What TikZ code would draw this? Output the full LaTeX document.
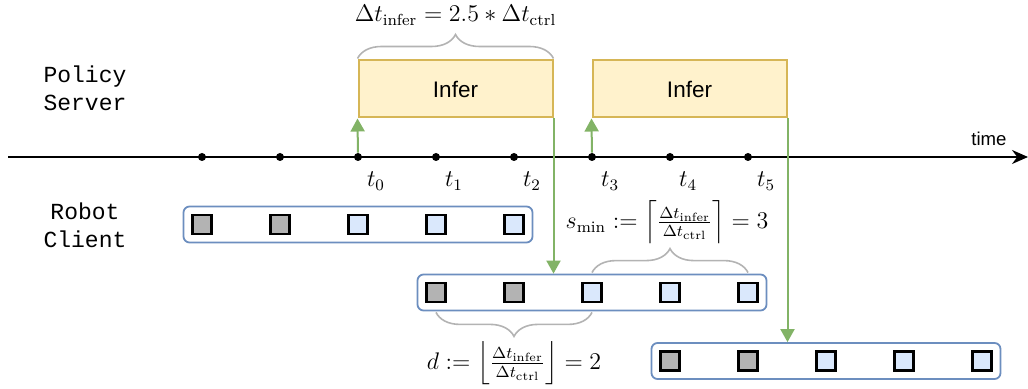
\documentclass[tikz,border=0pt]{standalone}
\usepackage{fontspec}
\usepackage{amsmath}
\usetikzlibrary{arrows.meta,decorations.pathreplacing,calc}
\newfontfamily\arialfont{Liberation Sans}
\newfontfamily\courierfont{Liberation Mono}
\definecolor{inferfill}{HTML}{FFF2CC}
\definecolor{inferline}{HTML}{D6B656}
\definecolor{sendgreen}{HTML}{82B366}
\definecolor{rowline}{HTML}{6C8EBF}
\definecolor{chunkblue}{HTML}{DAE8FC}
\definecolor{chunkgray}{HTML}{B3B3B3}
\definecolor{bracegray}{HTML}{B3B3B3}
\begin{document}
\begin{tikzpicture}[x=0.5pt,y=-0.5pt,
    infer/.style={draw=inferline,fill=inferfill,line width=1pt,minimum width=97pt,minimum height=28.5pt,inner sep=0pt,font=\arialfont\fontsize{11.25}{13}\selectfont},
    tick/.style={circle,fill=black,inner sep=0pt,minimum size=4pt},
    rowbox/.style={draw=rowline,rounded corners=3pt,line width=0.9pt,minimum width=174.5pt,minimum height=18pt,inner sep=0pt},
    chunk/.style={draw=black,line width=1.1pt,minimum size=9.5pt,inner sep=0pt},
    send/.style={draw=sendgreen,line width=1pt,-{Triangle[width=7pt,length=6.5pt]}},
    curly/.style={draw=bracegray,line width=0.8pt,decorate,decoration={brace,amplitude=12pt}},
    lane/.style={font=\courierfont\fontsize{11.5}{13.8}\selectfont,align=center}]

    \useasboundingbox (0,0) rectangle (1028,389);

    \node[lane] (server) at (85,88) {Policy\\Server};
    \node[lane] (client) at (85,225) {Robot\\Client};

    % time axis
    \coordinate (tstart) at (8,157);
    \coordinate (tend) at (1028,157);
    \draw[line width=1pt,-{Stealth[length=8pt,width=7pt]}] (tstart) -- (tend);
    \node[font=\arialfont\fontsize{9.3}{11}\selectfont] (timelbl) at (989,139) {time};
    \foreach \i in {-2,...,5}
        \node[tick] (tk\i) at ({358+78*\i},157) {};
    \foreach \i in {0,...,5}
        \node[font=\large] (tl\i) at ([xshift=9pt,yshift=-12pt]tk\i) {$t_{\i}$};

    \node[infer] (infer1) at (455.5,89) {Infer};
    \node[infer] (infer2) at (689.5,89) {Infer};

    % action chunks
    \foreach \r/\x/\y in {1/202/224.5, 2/436/292.5, 3/670/361} {
        \node[rowbox] (row\r) at ({\x+156},\y) {};
        \foreach \j/\c in {0/chunkgray,1/chunkgray,2/chunkblue,3/chunkblue,4/chunkblue}
            \node[chunk,fill=\c] (c\r\j) at ({\x+78*\j},\y) {};
    }

    \draw[send] (tk0) -- (infer1.south west);
    \draw[send] (tk3) -- (infer2.south west);
    \draw[send] (infer1.south east) -- (infer1.south east |- row2.north);
    \draw[send] (infer2.south east) -- (infer2.south east |- row3.north);

    \draw[curly] ($(infer1.north west)+(0,-1)$) -- ($(infer1.north east)+(0,-1)$)
        node[midway,yshift=21.5pt] (inferlen) {\large$\Delta t_{\mathrm{infer}} = 2.5 * \Delta t_{\mathrm{ctrl}}$};
    \draw[curly] ($(c22 |- row2.north)+(0,-1)$) -- ($(c24 |- row2.north)+(0,-1)$)
        node[midway,xshift=-1.5pt,yshift=25pt] (smin) {\large$s_{\min} := \left\lceil \frac{\Delta t_{\mathrm{infer}}}{\Delta t_{\mathrm{ctrl}}} \right\rceil = 3$};
    \draw[curly,decoration={mirror}] ($(c20 |- row2.south)+(0,1)$) -- ($(c22 |- row2.south)+(0,1)$)
        node[midway,yshift=-25.5pt] (delay) {\large$d := \left\lfloor \frac{\Delta t_{\mathrm{infer}}}{\Delta t_{\mathrm{ctrl}}} \right\rfloor = 2$};

\end{tikzpicture}
\end{document}
